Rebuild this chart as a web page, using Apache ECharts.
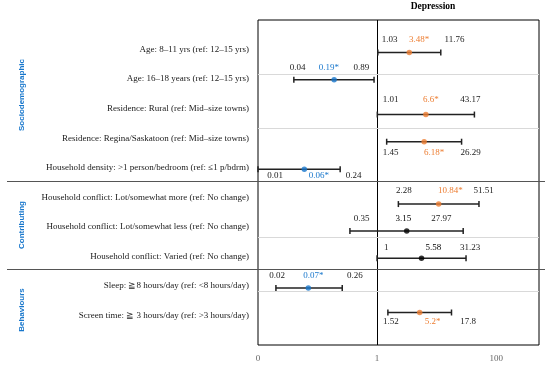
<!DOCTYPE html>
<html><head><meta charset="utf-8">
<script src="https://cdn.jsdelivr.net/npm/echarts@6/dist/echarts.min.js"></script>
<style>html,body{margin:0;padding:0;background:#fff}#c{width:550px;height:366px}</style>
</head><body><div id="c"></div>
<script>
// ---- data (rows listed top to bottom) ----
const rowLabels = [
  'Age: 8–11 yrs (ref: 12–15 yrs)',
  'Age: 16–18 years (ref: 12–15 yrs)',
  'Residence: Rural (ref: Mid–size towns)',
  'Residence: Regina/Saskatoon (ref: Mid–size towns)',
  'Household density: >1 person/bedroom (ref: ≤1 p/bdrm)',
  'Household conflict: Lot/somewhat more (ref: No change)',
  'Household conflict: Lot/somewhat less (ref: No change)',
  'Household conflict: Varied (ref: No change)',
  'Sleep: ≧8 hours/day (ref: <8 hours/day)',
  'Screen time: ≧ 3 hours/day (ref: >3 hours/day)'
];
const groupNames = ['Sociodemographic', 'Contributing', 'Behaviours'];
const oddsRatio = [3.48, 0.19, 6.6, 6.18, 0.06, 10.84, 3.15, 5.58, 0.07, 5.2];
const ciLow     = [1.03, 0.04, 1.01, 1.45, 0.01, 2.28, 0.35, 1, 0.02, 1.52];
const ciHigh    = [11.76, 0.89, 43.17, 26.29, 0.24, 51.51, 27.97, 31.23, 0.26, 17.8];
const significant = [true, true, true, true, true, true, false, false, true, true];
// vertical position (row units, 1 = bottom row) at which each estimate is drawn
const rowY = [9.9, 8.98, 7.8, 6.88, 5.95, 4.77, 3.86, 2.94, 1.93, 1.1];
const gridLineRows = [9.17, 7.33, 3.65, 1.81];
const groupBreakRows = [5.53, 2.56];
const xTickValues = [0.01, 1, 100];
const xTickLabels = ['0', '1', '100'];
const chartTitle = 'Depression';

// ---- styling / layout ----
const ORANGE = '#ED7D31', BLUE = '#1877CC', INK = '#1a1a1a';
const SERIF = "'Liberation Serif', 'DejaVu Serif', serif";
// text nudges in px: [dxLow, dxEstimate, dxHigh, dy]
const textNudge = [
  [11.9, 9.7, 13.7, -12.7],
  [3.9, -5.2, -12.6, -12.4],
  [13.4, 4.9, -4.1, -14.7],
  [3.9, 9.9, 9.0, 10.7],
  [17.2, 14.6, 13.4, 6.7],
  [5.6, 11.6, 4.6, -13.6],
  [11.6, -3.4, -21.7, -12],
  [9.2, 11.8, 4.0, -10.6],
  [1.1, 5.1, 12.7, -12.6],
  [3.1, 12.9, 16.5, 9]
];
function estColor(i) {
  if (!significant[i]) return '#000';
  return oddsRatio[i] > 1 ? ORANGE : BLUE;
}
function fmt(v) { return String(v); }

const nRows = rowLabels.length;
const chart = echarts.init(document.getElementById('c'), null, {renderer: 'canvas'});

const barData = rowLabels.map((_, i) => [ciLow[i], ciHigh[i], rowY[i], oddsRatio[i], i]);

chart.setOption({
  animation: false,
  grid: {left: 258, top: 20, width: 281, height: 325, show: true, borderColor: '#000', borderWidth: 1, backgroundColor: 'transparent'},
  xAxis: {
    type: 'log', logBase: 100, min: 0.01, max: 525,
    axisLine: {show: false}, axisTick: {show: false}, splitLine: {show: false},
    axisLabel: {
      margin: 9, color: '#666', fontFamily: SERIF, fontSize: 9, showMaxLabel: false,
      formatter: function (v) {
        for (let k = 0; k < xTickValues.length; k++) {
          if (Math.abs(Math.log10(v) - Math.log10(xTickValues[k])) < 1e-6) return xTickLabels[k];
        }
        return '';
      }
    }
  },
  yAxis: {
    type: 'value', min: 0, max: nRows + 1, interval: 1,
    axisLine: {show: false}, axisTick: {show: false}, splitLine: {show: false},
    axisLabel: {
      margin: 9, color: INK, fontFamily: SERIF, fontSize: 9,
      formatter: function (v) {
        const idx = nRows - Math.round(v);
        return (idx >= 0 && idx < nRows && Math.round(v) >= 1) ? rowLabels[idx] : '';
      }
    }
  },
  graphic: [
    {type: 'text', x: 433, y: 7, style: {text: chartTitle, font: "bold 9.5px " + SERIF, fill: '#000', align: 'center', verticalAlign: 'middle'}},
    {type: 'text', x: 22, y: 95, rotation: Math.PI / 2, style: {text: groupNames[0], font: "bold 8px 'Liberation Sans', sans-serif", fill: BLUE, align: 'center', verticalAlign: 'middle'}},
    {type: 'text', x: 22, y: 225, rotation: Math.PI / 2, style: {text: groupNames[1], font: "bold 8px 'Liberation Sans', sans-serif", fill: BLUE, align: 'center', verticalAlign: 'middle'}},
    {type: 'text', x: 22, y: 310, rotation: Math.PI / 2, style: {text: groupNames[2], font: "bold 8px 'Liberation Sans', sans-serif", fill: BLUE, align: 'center', verticalAlign: 'middle'}}
  ],
  series: [
    {
      type: 'custom',
      data: barData,
      encode: {x: [0, 1, 3], y: 2},
      clip: false,
      z: 3,
      renderItem: function (params, api) {
        const lo = api.value(0), hi = api.value(1), y = api.value(2), est = api.value(3), i = api.value(4);
        const p1 = api.coord([lo, y]), p2 = api.coord([hi, y]), pm = api.coord([est, y]);
        const ls = {stroke: '#222', lineWidth: 1.5};
        const nd = textNudge[i];
        const ty = p1[1] + nd[3];
        const font = '9px ' + SERIF;
        return {
          type: 'group',
          children: [
            {type: 'line', shape: {x1: p1[0], y1: p1[1], x2: p2[0], y2: p2[1]}, style: ls},
            {type: 'line', shape: {x1: p1[0], y1: p1[1] - 3, x2: p1[0], y2: p1[1] + 3}, style: ls},
            {type: 'line', shape: {x1: p2[0], y1: p2[1] - 3, x2: p2[0], y2: p2[1] + 3}, style: ls},
            {type: 'text', x: p1[0] + nd[0], y: ty, style: {text: fmt(ciLow[i]), font: font, fill: INK, align: 'center', verticalAlign: 'middle'}},
            {type: 'text', x: pm[0] + nd[1], y: ty, style: {text: fmt(oddsRatio[i]) + (significant[i] ? '*' : ''), font: font, fill: estColor(i), align: 'center', verticalAlign: 'middle'}},
            {type: 'text', x: p2[0] + nd[2], y: ty, style: {text: fmt(ciHigh[i]), font: font, fill: INK, align: 'center', verticalAlign: 'middle'}}
          ]
        };
      }
    },
    {
      type: 'scatter',
      z: 4,
      symbol: 'circle', symbolSize: 5.5,
      data: oddsRatio.map((v, i) => ({value: [v, rowY[i]], itemStyle: {color: estColor(i)}})),
      markLine: {
        silent: true, symbol: 'none', label: {show: false}, animation: false, z: 1,
        data: [
          {xAxis: 1, lineStyle: {color: '#000', width: 1, type: 'solid'}},
          ...gridLineRows.map(r => ({yAxis: r, lineStyle: {color: '#d9d9d9', width: 1, type: 'solid'}})),
          ...groupBreakRows.map(r => [
            {xAxis: 1, yAxis: r, x: 7, lineStyle: {color: '#555', width: 1.2, type: 'solid'}},
            {xAxis: 1, yAxis: r, x: 545}
          ])
        ]
      }
    }
  ]
});
</script>
</body></html>
